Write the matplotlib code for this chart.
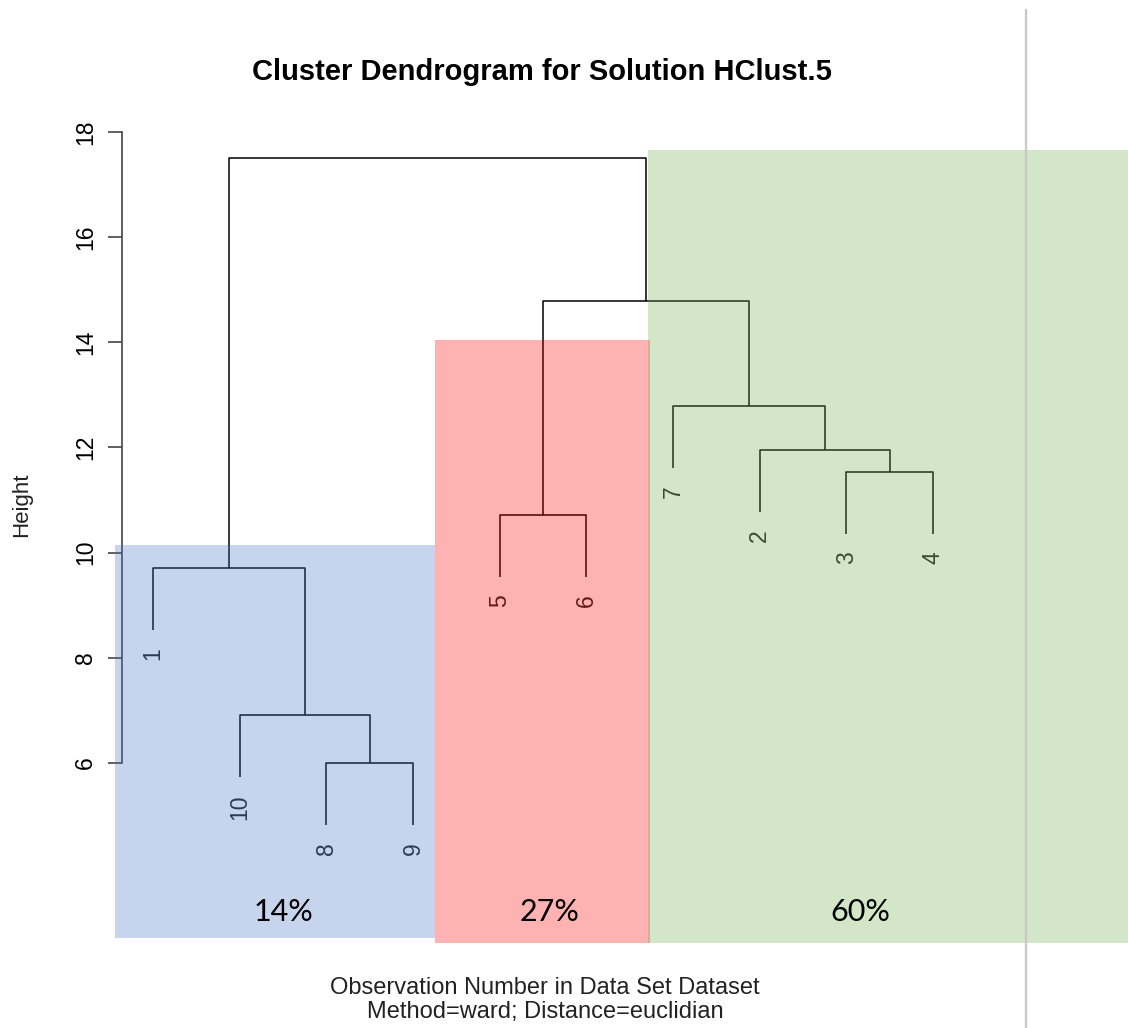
import numpy as np
import matplotlib.pyplot as plt
from matplotlib.patches import Rectangle

# leaf order along the x axis (observation numbers)
leaf_order = [1, 10, 8, 9, 5, 6, 7, 2, 3, 4]
# merge table, R style: negative = observation, positive = earlier merge step
merge_left = [-8, -10, -1, -5, -3, -2, -7, 4, 3]
merge_right = [-9, 1, 2, -6, -4, 5, 6, 7, 8]
merge_height = [6.0, 6.91, 9.71, 10.72, 11.53, 11.95, 12.79, 14.79, 17.51]
hang = 1.18

# cluster boxes pasted on top of the dendrogram
box_labels = ["14%", "27%", "60%"]
box_colors = ["#4472C4", "#FF0000", "#70AD47"]
box_x0 = [0.562, 4.254, 6.71]
box_x1 = [4.254, 6.73, 12.30]
box_top = [10.15, 14.04, 17.66]
box_bottom = [2.67, 2.58, 2.58]
box_label_x = [2.51, 5.57, 9.16]

plt.rcParams['font.family'] = ['Liberation Sans', 'DejaVu Sans']

fig = plt.figure(figsize=(11.28, 10.28), dpi=100)
ax = fig.add_axes([122 / 1128, 0, 1006 / 1128, 1])
ax.set_xlim(0.6423, 12.2496)
ax.set_ylim(0.959, 20.51)

leaf_x = {obs: i + 1 for i, obs in enumerate(leaf_order)}
node_x = {}


def pos(k):
    if k < 0:
        return leaf_x[-k], None
    return node_x[k], merge_height[k - 1]


line_kw = dict(color="black", lw=1.1, solid_capstyle="butt")
for step, (a, b, h) in enumerate(zip(merge_left, merge_right, merge_height), start=1):
    xa, ya = pos(a)
    xb, yb = pos(b)
    if ya is None:
        ya = h - hang
        ax.text(xa, ya - 0.33, str(-a), rotation=90, ha="center", va="top",
                fontsize=16.5, color="#222222")
    if yb is None:
        yb = h - hang
        ax.text(xb, yb - 0.33, str(-b), rotation=90, ha="center", va="top",
                fontsize=16.5, color="#222222")
    ax.plot([xa, xa, xb, xb], [ya, h, h, yb], **line_kw)
    node_x[step] = (xa + xb) / 2

# grey divider line
fig.add_artist(plt.Line2D([1026 / 1128, 1026 / 1128], [0, 1 - 10 / 1028],
                          color="#c8c8c8", lw=1.6))

for lab, c, x0, x1, t, bt, lx in zip(box_labels, box_colors, box_x0, box_x1,
                                      box_top, box_bottom, box_label_x):
    ax.add_patch(Rectangle((x0, bt), x1 - x0, t - bt, facecolor=c, alpha=0.3,
                           edgecolor="none", clip_on=False, zorder=5))
    ax.text(lx, 3.17, lab, ha="center", va="center",
            fontsize=22, family="Lato", color="black", zorder=6)

for s in ["top", "right", "bottom"]:
    ax.spines[s].set_visible(False)
ax.spines["left"].set_bounds(6, 18)
ax.spines["left"].set_color("#444444")
ax.spines["left"].set_linewidth(1.2)
ax.set_xticks([])
ax.set_yticks(np.arange(6, 19, 2))
ax.set_yticklabels([str(v) for v in range(6, 19, 2)], rotation=90, va="center", fontsize=16.5)
ax.tick_params(axis="y", length=10, width=1.2, color="#444444", pad=8)
ax.patch.set_alpha(0)

fig.text(542 / 1128, 1 - 72 / 1028, "Cluster Dendrogram for Solution HClust.5",
         ha="center", va="center", fontsize=21, fontweight="bold")
fig.text(545 / 1128, 1 - 988 / 1028, "Observation Number in Data Set Dataset",
         ha="center", va="center", fontsize=17, color="#222222")
fig.text(545 / 1128, 1 - 1012 / 1028, "Method=ward; Distance=euclidian",
         ha="center", va="center", fontsize=17, color="#222222")
fig.text(22 / 1128, 1 - 505 / 1028, "Height", rotation=90, ha="center", va="center",
         fontsize=16, color="#222222")

fig.savefig("out.png", dpi=100)
